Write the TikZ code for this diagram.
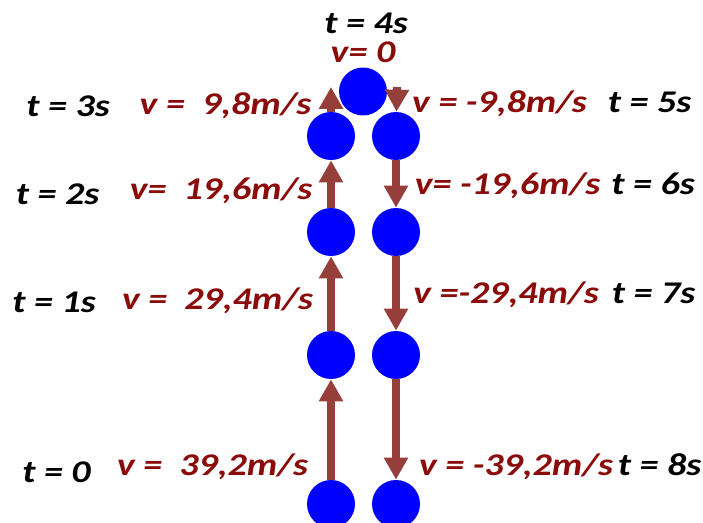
\documentclass[tikz,border=0pt]{standalone}
\usepackage{fontspec}
\setmainfont{Carlito}[FakeStretch=1.2]
\usepackage{xcolor}
\usetikzlibrary{arrows.meta, positioning}
\definecolor{colBall}{RGB}{0,0,255}
\definecolor{colArrow}{RGB}{150,62,58}
\definecolor{colVel}{RGB}{139,10,10}

\begin{document}
\begin{tikzpicture}[
  x=0.02cm, y=-0.02cm,
  ball/.style={circle, fill=colBall, minimum size=0.96cm, inner sep=0pt},
  arr/.style={-{Triangle[length=0.44cm, width=0.46cm]}, line width=0.16cm, colArrow},
  tlabel/.style={font=\fontsize{18}{20}\selectfont\bfseries\itshape, anchor=base, inner sep=0pt},
  vlabel/.style={tlabel, text=colVel},
]
\useasboundingbox (0,0) rectangle (703,523);
\clip (0,0) rectangle (703,523);

% ─── BALLS ────────────────────────────────────────────────────────────────────
\node[ball] (top) at (363,91.5) {};
\node[ball] (up3) at (331,136) {};
\node[ball] (up2) at (331,232) {};
\node[ball] (up1) at (331,355) {};
\node[ball] (up0) at (331,504) {};
\node[ball] (dn5) at (396,136) {};
\node[ball] (dn6) at (396,232) {};
\node[ball] (dn7) at (396,355) {};
\node[ball] (dn8) at (396,504) {};

% ─── VELOCITY ARROWS ──────────────────────────────────────────────────────────
\coordinate (upTip) at (331,87);
\coordinate (dnTail) at (397,87);

\draw[arr] (up0) -- (up1);
\draw[arr] (up1) -- (up2);
\draw[arr] (up2) -- (up3);
\draw[arr] (up3) -- (upTip);
\draw[arr] (dnTail) -- (dn5);
\draw[arr] (dn5) -- (dn6);
\draw[arr] (dn6) -- (dn7);
\draw[arr] (dn7) -- (dn8);

% ─── TOP ──────────────────────────────────────────────────────────────────────
\node[tlabel] (t4) at (366,34) {t = 4s};
\node[vlabel] (v4) at (363,63) {v= 0};

% ─── GOING UP ─────────────────────────────────────────────────────────────────
\node[tlabel] (t3) at (68,117)    {t = 3s};
\node[vlabel] (v3) at (225.5,115) {v =~~9,8m/s};
\node[tlabel] (t2) at (57.5,205)  {t = 2s};
\node[vlabel] (v2) at (221,200)   {v=~~19,6m/s};
\node[tlabel] (t1) at (54,313)    {t = 1s};
\node[vlabel] (v1) at (217.5,310) {v =~~29,4m/s};
\node[tlabel] (t0) at (56.5,482)  {t = 0};
\node[vlabel] (v0) at (212.5,475) {v =~~39,2m/s};

% ─── COMING DOWN ──────────────────────────────────────────────────────────────
\node[vlabel] (v5) at (499.5,113) {v = -9,8m/s};
\node[tlabel] (t5) at (649.5,113) {t = 5s};
\node[vlabel] (v6) at (507.5,195) {v= -19,6m/s};
\node[tlabel] (t6) at (653,195)   {t = 6s};
\node[vlabel] (v7) at (506,304)   {v =-29,4m/s};
\node[tlabel] (t7) at (653.5,304) {t = 7s};
\node[vlabel] (v8) at (516,475)   {v = -39,2m/s};
\node[tlabel] (t8) at (659.5,475) {t = 8s};

\end{tikzpicture}
\end{document}
